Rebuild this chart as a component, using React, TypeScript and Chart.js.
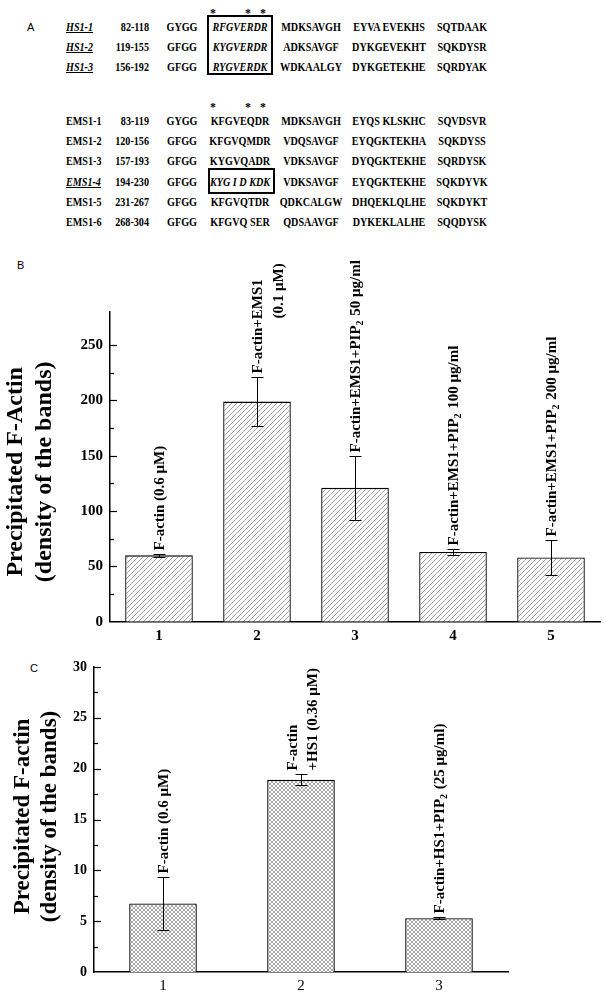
import React, { useEffect, useRef } from "react";
import { Chart, registerables } from "chart.js";

Chart.register(...registerables);

// ---------- Panel A: sequence table ----------
const hsRows = [
  ["HS1-1", "82-118", "GYGG", "RFGVERDR", "MDKSAVGH", "EYVA EVEKHS", "SQTDAAK"],
  ["HS1-2", "119-155", "GFGG", "KYGVERDR", "ADKSAVGF", "DYKGEVEKHT", "SQKDYSR"],
  ["HS1-3", "156-192", "GFGG", "RYGVERDK", "WDKAALGY", "DYKGETEKHE", "SQRDYAK"],
];
const emsRows = [
  ["EMS1-1", "83-119", "GYGG", "KFGVEQDR", "MDKSAVGH", "EYQS KLSKHC", "SQVDSVR"],
  ["EMS1-2", "120-156", "GFGG", "KFGVQMDR", "VDQSAVGF", "EYQGKTEKHA", "SQKDYSS"],
  ["EMS1-3", "157-193", "GFGG", "KYGVQADR", "VDKSAVGF", "DYQGKTEKHE", "SQRDYSK"],
  ["EMS1-4", "194-230", "GFGG", "KYG I D KDK", "VDKSAVGF", "EYQGKTEKHE", "SQKDYVK"],
  ["EMS1-5", "231-267", "GFGG", "KFGVQTDR", "QDKCALGW", "DHQEKLQLHE", "SQKDYKT"],
  ["EMS1-6", "268-304", "GFGG", "KFGVQ SER", "QDSAAVGF", "DYKEKLALHE", "SQQDYSK"],
];
const emsHighlighted = ["EMS1-4"];

// ---------- Panel B ----------
const catsB = ["1", "2", "3", "4", "5"];
const valsB = [60, 199, 121, 63, 58];
const errsB = [1.5, 22, 29, 3, 16];
const labelsB = [
  ["F-actin (0.6 μM)"],
  ["F-actin+EMS1", "(0.1 μM)"],
  ["F-actin+EMS1+PIP_2 50 μg/ml"],
  ["F-actin+EMS1+PIP_2 100 μg/ml"],
  ["F-actin+EMS1+PIP_2 200 μg/ml"],
];
const titleB = ["Precipitated F-Actin", "(density of the bands)"];

// ---------- Panel C ----------
const catsC = ["1", "2", "3"];
const valsC = [6.75, 18.9, 5.28];
const errsC = [2.62, 0.55, 0.1];
const labelsC = [
  ["F-actin (0.6 μM)"],
  ["F-actin", "+HS1 (0.36 μM)"],
  ["F-actin+HS1+PIP_2 (25 μg/ml)"],
];
const titleC = ["Precipitated F-actin", "(density of the bands)"];

const SERIF = '"Liberation Serif", "Times New Roman", serif';

function makePattern(ctx: CanvasRenderingContext2D, cross: boolean) {
  const s = cross ? 4 : 5;
  const c = document.createElement("canvas");
  c.width = s;
  c.height = s;
  const g = c.getContext("2d")!;
  g.fillStyle = "#fff";
  g.fillRect(0, 0, s, s);
  g.strokeStyle = cross ? "#6a6a6a" : "#7a7a7a";
  g.lineWidth = cross ? 0.6 : 0.7;
  g.beginPath();
  g.moveTo(-1, s + 1);
  g.lineTo(s + 1, -1);
  g.moveTo(-1, 1);
  g.lineTo(1, -1);
  g.moveTo(s - 1, s + 1);
  g.lineTo(s + 1, s - 1);
  if (cross) {
    g.moveTo(-1, -1);
    g.lineTo(s + 1, s + 1);
    g.moveTo(s - 1, -1);
    g.lineTo(s + 1, 1);
    g.moveTo(-1, s - 1);
    g.lineTo(1, s + 1);
  }
  g.stroke();
  return ctx.createPattern(c, "repeat")!;
}

function drawRich(ctx: CanvasRenderingContext2D, text: string, size: number) {
  const parts = text.split(/_(\d)/);
  let off = 0;
  parts.forEach((p, i) => {
    const sub = i % 2 === 1;
    ctx.font = `bold ${sub ? Math.round(size * 0.68) : size}px ${SERIF}`;
    ctx.fillText(p, off, sub ? size * 0.3 : 0);
    off += ctx.measureText(p).width + (sub ? 1 : 0);
  });
}

type PanelCfg = {
  cats: string[];
  vals: number[];
  errs: number[];
  labels: string[][];
  title: string[];
  yMax: number;
  step: number;
  major: number;
  axisLeft: number;
  padTop: number;
  padRight: number;
  xAxisH: number;
  barPct: number;
  cross: boolean;
  yTickSize: number;
  xTickSize: number;
  xTickBold: boolean;
  titleSize: number;
  titleXs: number[];
  titleDy: number;
  multiOffsets: number[][];
  labelSize: number;
};

const annotPlugin = {
  id: "annot",
  afterDatasetsDraw(chart: any, _args: any, opts: any) {
    const cfg: PanelCfg = opts.cfg;
    if (!cfg) return;
    const ctx: CanvasRenderingContext2D = chart.ctx;
    const y = chart.scales.y;
    const area = chart.chartArea;
    ctx.save();
    // inside ticks on y axis
    ctx.strokeStyle = "#000";
    ctx.lineWidth = 1.2;
    y.ticks.forEach((t: any) => {
      const v = t.value;
      if (Math.abs(v / cfg.step - Math.round(v / cfg.step)) > 1e-6) return;
      if (v === 0) return;
      const isMajor = Math.abs(v / cfg.major - Math.round(v / cfg.major)) < 1e-6;
      const py = Math.round(y.getPixelForValue(v)) + 0.5;
      ctx.beginPath();
      ctx.moveTo(area.left, py);
      ctx.lineTo(area.left + (isMajor ? 7 : 4), py);
      ctx.stroke();
    });
    // error bars
    const meta = chart.getDatasetMeta(0);
    ctx.lineWidth = 1;
    meta.data.forEach((bar: any, i: number) => {
      const v = cfg.vals[i];
      const e = cfg.errs[i];
      const cx = Math.round(bar.x) + 0.5;
      const yt = Math.round(y.getPixelForValue(v + e)) + 0.5;
      const yb = Math.round(y.getPixelForValue(v - e)) + 0.5;
      ctx.beginPath();
      ctx.moveTo(cx, yt);
      ctx.lineTo(cx, yb);
      ctx.moveTo(cx - 6, yt);
      ctx.lineTo(cx + 6, yt);
      ctx.moveTo(cx - 6, yb);
      ctx.lineTo(cx + 6, yb);
      ctx.stroke();
      // labels
      const lines = cfg.labels[i];
      lines.forEach((line, li) => {
        const o = lines.length > 1 ? cfg.multiOffsets[li] : [1, 0];
        ctx.save();
        ctx.translate(bar.x + o[0], yt - 4 + o[1]);
        ctx.rotate(-Math.PI / 2);
        ctx.textBaseline = "middle";
        ctx.textAlign = "left";
        ctx.fillStyle = "#000";
        drawRich(ctx, line, cfg.labelSize);
        ctx.restore();
      });
    });
    // y-axis title
    const cy = (area.top + area.bottom) / 2 + cfg.titleDy;
    cfg.title.forEach((line, li) => {
      ctx.save();
      ctx.translate(cfg.titleXs[li], cy);
      ctx.rotate(-Math.PI / 2);
      ctx.textAlign = "center";
      ctx.textBaseline = "middle";
      ctx.fillStyle = "#000";
      ctx.font = `bold ${cfg.titleSize}px ${SERIF}`;
      ctx.fillText(line, 0, 0);
      ctx.restore();
    });
    ctx.restore();
  },
};

function BarPanel({ cfg, top, height }: { cfg: PanelCfg; top: number; height: number }) {
  const ref = useRef<HTMLCanvasElement>(null);
  useEffect(() => {
    const canvas = ref.current!;
    const ctx = canvas.getContext("2d")!;
    const pattern = makePattern(ctx, cfg.cross);
    const chart = new Chart(canvas, {
      type: "bar",
      data: {
        labels: cfg.cats,
        datasets: [
          {
            data: cfg.vals,
            backgroundColor: pattern as any,
            borderColor: "#000",
            borderWidth: 1.3,
            barPercentage: cfg.barPct,
            categoryPercentage: 1,
          },
        ],
      },
      options: {
        animation: false,
        responsive: false,
        maintainAspectRatio: false,
        layout: { padding: { top: cfg.padTop, right: cfg.padRight, left: 0, bottom: 0 } },
        plugins: {
          legend: { display: false },
          tooltip: { enabled: false },
          annot: { cfg },
        } as any,
        scales: {
          x: {
            type: "category",
            grid: { display: false, drawTicks: false },
            border: { display: true, color: "#000", width: 1.5 },
            ticks: {
              color: "#000",
              padding: 5,
              font: { family: SERIF, size: cfg.xTickSize, weight: cfg.xTickBold ? "bold" : "normal" },
            },
            afterFit: (s: any) => {
              s.height = cfg.xAxisH;
            },
          },
          y: {
            type: "linear",
            min: 0,
            max: cfg.yMax,
            grid: { display: false, drawTicks: false },
            border: { display: true, color: "#000", width: 1.5 },
            ticks: {
              stepSize: cfg.step,
              color: "#000",
              padding: 7,
              font: { family: SERIF, size: cfg.yTickSize, weight: "bold" },
              callback: (v: any) => {
                const n = Number(v);
                return Math.abs(n / cfg.major - Math.round(n / cfg.major)) < 1e-6 ? String(n) : "";
              },
            },
            afterFit: (s: any) => {
              s.width = cfg.axisLeft;
            },
          },
        },
      },
      plugins: [annotPlugin as any],
    });
    return () => chart.destroy();
  }, []);
  return (
    <div style={{ position: "absolute", left: 0, top, width: 604, height }}>
      <canvas ref={ref} width={604} height={height} style={{ display: "block" }} />
    </div>
  );
}

const SCALE = 0.78;
function T({
  x,
  y,
  text,
  align = "left",
  italic = false,
  underline = false,
  size = 13,
}: {
  x: number;
  y: number;
  text: string;
  align?: "left" | "center" | "right";
  italic?: boolean;
  underline?: boolean;
  size?: number;
}) {
  const tf =
    align === "center"
      ? `translateX(-50%) scaleX(${SCALE})`
      : align === "right"
      ? `translateX(-100%) scaleX(${SCALE})`
      : `scaleX(${SCALE})`;
  return (
    <span
      style={{
        position: "absolute",
        left: x,
        top: y - 8,
        lineHeight: "16px",
        fontFamily: SERIF,
        fontWeight: "bold",
        fontSize: size,
        fontStyle: italic ? "italic" : "normal",
        textDecoration: underline ? "underline" : "none",
        whiteSpace: "pre",
        transform: tf,
        transformOrigin: align,
        color: "#000",
      }}
    >
      {text}
    </span>
  );
}

function Stars({ y }: { y: number }) {
  return (
    <>
      {[213, 248, 263].map((sx) => (
        <span
          key={sx}
          style={{
            position: "absolute",
            left: sx - 4,
            top: y - 4,
            width: 8,
            textAlign: "center",
            fontFamily: SERIF,
            fontWeight: "bold",
            fontSize: 12,
            lineHeight: "12px",
            color: "#000",
            transform: "scaleX(0.99)",
          }}
        >
          *
        </span>
      ))}
    </>
  );
}

function Row({ r, y, special }: { r: string[]; y: number; special: boolean }) {
  return (
    <>
      <T x={66} y={y} text={r[0]} italic={special} underline={special} />
      <T x={149} y={y} text={r[1]} align="right" />
      <T x={182} y={y} text={r[2]} align="center" />
      <T x={240} y={y} text={r[3]} align="center" italic={special} />
      <T x={311} y={y} text={r[4]} align="center" />
      <T x={389} y={y} text={r[5]} align="center" />
      <T x={462} y={y} text={r[6]} align="center" />
    </>
  );
}

const letterStyle: React.CSSProperties = {
  position: "absolute",
  fontFamily: '"Liberation Sans", "DejaVu Sans", sans-serif',
  fontSize: 11,
  lineHeight: "12px",
  color: "#000",
};

const cfgB: PanelCfg = {
  cats: catsB,
  vals: valsB,
  errs: errsB,
  labels: labelsB,
  title: titleB,
  yMax: 280,
  step: 25,
  major: 50,
  axisLeft: 110,
  padTop: 72,
  padRight: 4,
  xAxisH: 28.3,
  barPct: 0.69,
  cross: false,
  yTickSize: 15,
  xTickSize: 15,
  xTickBold: true,
  titleSize: 24,
  titleXs: [16, 45],
  titleDy: 5,
  multiOffsets: [
    [1, 0],
    [22, -55],
  ],
  labelSize: 15,
};

const cfgC: PanelCfg = {
  cats: catsC,
  vals: valsC,
  errs: errsC,
  labels: labelsC,
  title: titleC,
  yMax: 30,
  step: 2.5,
  major: 5,
  axisLeft: 94,
  padTop: 17,
  padRight: 96,
  xAxisH: 24,
  barPct: 0.49,
  cross: true,
  yTickSize: 14,
  xTickSize: 15,
  xTickBold: false,
  titleSize: 23,
  titleXs: [23, 50],
  titleDy: -3,
  multiOffsets: [
    [-8, 0],
    [12, 0],
  ],
  labelSize: 15,
};

export default function App() {
  return (
    <div
      style={{
        position: "absolute",
        left: 0,
        top: 0,
        width: 604,
        height: 996,
        background: "#fff",
        overflow: "hidden",
      }}
    >
      <span style={{ ...letterStyle, left: 27, top: 21 }}>A</span>
      <Stars y={11} />
      {hsRows.map((r, i) => (
        <Row key={r[0]} r={r} y={27 + i * 20} special={true} />
      ))}
      <div
        style={{
          position: "absolute",
          left: 207,
          top: 15,
          width: 66,
          height: 60,
          border: "2px solid #000",
          boxSizing: "border-box",
        }}
      />
      <Stars y={105} />
      {emsRows.map((r, i) => (
        <Row key={r[0]} r={r} y={121 + i * 20.2} special={emsHighlighted.includes(r[0])} />
      ))}
      <div
        style={{
          position: "absolute",
          left: 208,
          top: 168,
          width: 67,
          height: 26,
          border: "2px solid #000",
          boxSizing: "border-box",
        }}
      />
      <span style={{ ...letterStyle, left: 17, top: 259 }}>B</span>
      <BarPanel cfg={cfgB} top={240} height={410} />
      <span style={{ ...letterStyle, left: 30, top: 662 }}>C</span>
      <BarPanel cfg={cfgC} top={650} height={346} />
    </div>
  );
}
